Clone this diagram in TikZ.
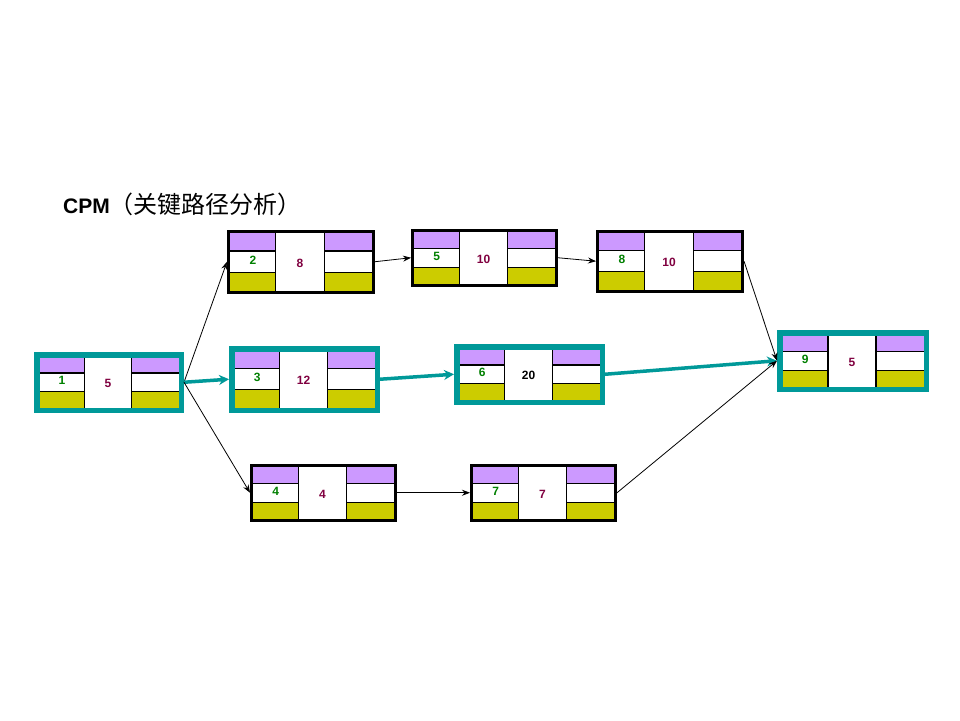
\documentclass[tikz,border=0pt]{standalone}
\usepackage{fontspec}
\setmainfont{Liberation Sans}
\newfontfamily\cjk{Noto Sans CJK SC}
\usetikzlibrary{arrows.meta}
\definecolor{teal2}{HTML}{009999}
\definecolor{purp}{HTML}{CC99FF}
\definecolor{olive2}{HTML}{CCCC00}
\definecolor{numgreen}{HTML}{008000}
\definecolor{nummid}{HTML}{800040}
\tikzset{
 normbox/.style={draw=black, line width=3pt},
 critbox/.style={draw=teal2, line width=5.5pt},
 cell/.style={line width=1.2pt, black},
 lnum/.style={font=\bfseries\fontsize{12}{12}\selectfont, text=numgreen, inner sep=0pt},
 mnum/.style={font=\bfseries\fontsize{12}{12}\selectfont, text=nummid, inner sep=0pt},
 normarr/.style={draw=black, line width=0.8pt, -{Stealth[length=8pt,width=6pt]}},
 critarr/.style={draw=teal2, line width=3.5pt, -{Stealth[length=10pt,width=10pt]}}
}
% name x1 y1 x2 y2 inset leftnum midnum style
\newcommand\cpmbox[9]{%
 \pgfmathsetmacro\cpmXa{#2+#6}\pgfmathsetmacro\cpmXb{#4-#6}%
 \pgfmathsetmacro\cpmYa{#3+#6}\pgfmathsetmacro\cpmYb{#5-#6}%
 \pgfmathsetmacro\cpmCa{\cpmXa+0.323*(\cpmXb-\cpmXa)}%
 \pgfmathsetmacro\cpmCb{\cpmXa+0.663*(\cpmXb-\cpmXa)}%
 \pgfmathsetmacro\cpmRa{\cpmYa+0.31*(\cpmYb-\cpmYa)}%
 \pgfmathsetmacro\cpmRb{\cpmYa+0.68*(\cpmYb-\cpmYa)}%
 \fill[purp] (\cpmXa,\cpmYa) rectangle (\cpmCa,\cpmRa);
 \fill[purp] (\cpmCb,\cpmYa) rectangle (\cpmXb,\cpmRa);
 \fill[olive2] (\cpmXa,\cpmRb) rectangle (\cpmCa,\cpmYb);
 \fill[olive2] (\cpmCb,\cpmRb) rectangle (\cpmXb,\cpmYb);
 \draw[cell] (\cpmCa,\cpmYa) -- (\cpmCa,\cpmYb) (\cpmCb,\cpmYa) -- (\cpmCb,\cpmYb)
   (\cpmXa,\cpmRa) -- (\cpmCa,\cpmRa) (\cpmXa,\cpmRb) -- (\cpmCa,\cpmRb)
   (\cpmCb,\cpmRa) -- (\cpmXb,\cpmRa) (\cpmCb,\cpmRb) -- (\cpmXb,\cpmRb);
 \node[#9, inner sep=0pt, outer sep=0pt, minimum width={(#4)-(#2)}, minimum height={(#5)-(#3)}] (#1) at ({(#2+#4)/2},{(#3+#5)/2}) {};
 \node[lnum] (#1-l) at ({(\cpmXa+\cpmCa)/2},{(\cpmRa+\cpmRb)/2-1.5}) {#7};
 \node[mnum] (#1-m) at ({(\cpmCa+\cpmCb)/2},{(#3+#5)/2+1}) {#8};
 \coordinate (#1-w) at ({#2-#6},{(\cpmRa+\cpmRb)/2});
 \coordinate (#1-e) at ({#4+#6},{(\cpmRa+\cpmRb)/2});
}
\begin{document}
\begin{tikzpicture}[x=1pt,y=-1pt]
\useasboundingbox (0,0) rectangle (960,720);
\fill[white] (0,0) rectangle (960,720);
\node[anchor=base west, inner sep=0pt, font=\bfseries\fontsize{21}{21}\selectfont] (title) at (63,213) {CPM{\cjk\mdseries\fontsize{24}{24}\selectfont （关键路径分析）}};
\cpmbox{b1}{36.75}{354.75}{181.25}{410.25}{2.75}{1}{5}{critbox}
\cpmbox{b2}{228.5}{231.5}{373.5}{292.5}{1.5}{2}{8}{normbox}
\cpmbox{b5}{412.5}{230.5}{556.5}{285.5}{1.5}{5}{10}{normbox}
\cpmbox{b8}{597.5}{231.5}{742.5}{291.5}{1.5}{8}{10}{normbox}
\cpmbox{b3}{231.75}{348.75}{377.25}{410.25}{2.75}{3}{12}{critbox}
\cpmbox{b6}{456.75}{346.75}{602.25}{402.25}{2.75}{6}{\textcolor{black}{20}}{critbox}
\cpmbox{b4}{251.5}{465.5}{395.5}{520.5}{1.5}{4}{4}{normbox}
\cpmbox{b7}{471.5}{465.5}{615.5}{520.5}{1.5}{7}{7}{normbox}
\cpmbox{b9}{779.75}{332.75}{926.25}{389.25}{2.75}{9}{5}{critbox}
\draw[normarr] (b1-e) -- (b2-w);
\draw[critarr] (b1-e) -- (b3-w);
\draw[normarr] (b1-e) -- (b4-w);
\draw[normarr] (b2-e) -- (b5-w);
\draw[normarr] (b5-e) -- (b8-w);
\draw[normarr] (b8-e) -- (b9-w);
\draw[critarr] (b3-e) -- (b6-w);
\draw[critarr] (b6-e) -- (b9-w);
\draw[normarr] (b4-e) -- (b7-w);
\draw[normarr] (b7-e) -- (b9-w);
\end{tikzpicture}
\end{document}
